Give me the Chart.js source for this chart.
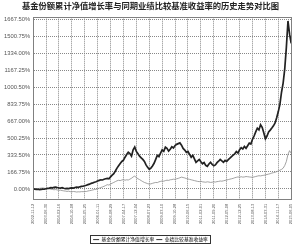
<!DOCTYPE html>
<html>
<head>
<meta charset="utf-8">
<script src="https://cdn.jsdelivr.net/npm/chart.js@4"></script>
<style>
  body { margin: 0; background: #fff; }
  #wrap { width: 300px; height: 248px; }
</style>
</head>
<body>
<div id="wrap"><canvas id="navChart" width="300" height="248"></canvas></div>
<script>
// tick labels along the bottom (one every 8 points)
const xTickLabels = [
  "2002-11-12", "2003-06-30", "2004-02-16", "2004-10-08", "2005-05-25",
  "2006-01-11", "2006-08-29", "2007-04-17", "2007-12-04", "2008-07-23",
  "2009-03-10", "2009-10-28", "2010-06-15", "2011-02-01", "2011-09-20",
  "2012-05-08", "2012-12-25", "2013-08-13", "2014-03-31", "2014-11-17",
  "2015-06-05"
];
const labelEvery = 8;

// y ticks as printed on the chart
const yTicks = [0, 166.75, 333.5, 500.25, 667, 833.75, 1000.5, 1167.25, 1334, 1500.75, 1667.5];

// fund cumulative NAV growth (%)
const fundGrowth = [
  0, -2, -5, -3, -6, -4, -1, -3, 2, 5, 8,
  12, 10, 15, 18, 14, 11, 9, 13, 7, 4,
  6, 3, 8, 11, 9, 14, 18, 16, 21, 25, 27,
  31, 36, 42, 47, 55, 60, 66, 71, 78,
  84, 90, 88, 95, 100, 104, 99,
  118, 135, 150, 176, 205,
  228, 251, 270, 282, 312, 338,
  360, 348, 322, 385,
  412, 368, 345, 322,
  306, 290, 270, 236, 212,
  192, 205, 225, 252,
  290, 330, 318, 352, 384, 370, 410,
  398, 372, 390, 415, 402, 426, 438, 445,
  452, 430, 398, 382, 360,
  368, 340, 312, 330, 296, 262,
  275, 290, 268, 248, 260, 232,
  222, 245, 262, 240, 228, 236,
  258, 272, 289, 276, 262, 280, 270,
  288, 302, 318, 332, 345, 368,
  352, 385, 405, 392, 418, 400,
  425, 450, 442, 488, 520, 560,
  596, 580, 630, 605, 552, 492,
  520, 560, 578, 598, 620, 648,
  700, 760, 830, 950, 1040, 1180,
  1390, 1650, 1520, 1430
];

// benchmark return (%)
const benchReturn = [
  0, 2, 4, 3, 6, 8, 10, 7, 5, 3, 1,
  -2, -5, -8, -6, -10, -14, -12, -16, -19, -21,
  -24, -22, -26, -28, -25, -27, -30, -28, -29, -26, -27,
  -24, -25, -20, -17, -14, -10, -6, -3, 2,
  8, 14, 20, 26, 34, 42, 38,
  48, 56, 64, 72, 80,
  85, 82, 88, 92, 86, 90,
  88, 96, 105, 118,
  126, 112, 100, 92,
  82, 72, 64, 58, 52,
  48, 50, 55, 60,
  64, 62, 70, 74, 78, 76, 82,
  86, 84, 90, 92, 96, 94, 100, 104,
  110, 116, 112, 108, 102,
  98, 94, 90, 86, 82, 78,
  74, 72, 76, 70, 68, 66,
  70, 68, 64, 66, 70, 68,
  72, 74, 78, 76, 80, 84, 88,
  92, 96, 100, 104, 110, 114,
  118, 115, 120, 116, 118, 122,
  120, 118, 116, 114, 118, 122,
  126, 130, 128, 132, 134, 138,
  142, 146, 150, 156, 160, 164,
  170, 176, 184, 192, 204, 230,
  270, 340, 376, 350
];

const seriesNames = ["基金份额累计净值增长率", "业绩比较基准收益率"];

const toPoints = arr => arr.map((v, i) => ({ x: i, y: v }));
const lastIndex = (xTickLabels.length - 1) * labelEvery;

// frame round the plot + box round the legend
const framePlugin = {
  id: 'frame',
  afterDraw(chart) {
    const ctx = chart.ctx;
    const a = chart.chartArea;
    ctx.save();
    ctx.strokeStyle = '#808080';
    ctx.lineWidth = 1;
    ctx.strokeRect(Math.round(a.left) + 0.5, Math.round(a.top) + 0.5,
      Math.round(a.right - a.left), Math.round(a.bottom - a.top));
    const boxes = chart.legend.legendHitBoxes;
    if (boxes && boxes.length) {
      let l = Infinity, t = Infinity, r = -Infinity, b = -Infinity;
      boxes.forEach(h => {
        l = Math.min(l, h.left); t = Math.min(t, h.top);
        r = Math.max(r, h.left + h.width); b = Math.max(b, h.top + h.height);
      });
      ctx.strokeStyle = '#333';
      ctx.strokeRect(Math.round(l - 3) + 0.5, Math.round(t - 2) + 0.5,
        Math.round(r - l + 5), Math.round(b - t + 3));
    }
    ctx.restore();
  }
};

new Chart(document.getElementById('navChart').getContext('2d'), {
  type: 'line',
  data: {
    datasets: [
      {
        label: seriesNames[0],
        data: toPoints(fundGrowth),
        borderColor: '#222',
        borderWidth: 1.7,
        pointRadius: 0,
        tension: 0
      },
      {
        label: seriesNames[1],
        data: toPoints(benchReturn),
        borderColor: '#8a8a8a',
        borderWidth: 0.8,
        pointRadius: 0,
        tension: 0
      }
    ]
  },
  options: {
    responsive: false,
    animation: false,
    layout: { padding: { left: 1, right: 0, top: 0, bottom: -4 } },
    plugins: {
      title: {
        display: true,
        text: '基金份额累计净值增长率与同期业绩比较基准收益率的历史走势对比图',
        color: '#222',
        font: { family: '"Noto Sans CJK SC", sans-serif', size: 8.3, weight: 'bold', lineHeight: 1 },
        padding: { top: 2, bottom: 7 }
      },
      legend: {
        position: 'bottom',
        labels: {
          usePointStyle: true,
          pointStyle: 'line',
          pointStyleWidth: 6,
          boxHeight: 4,
          padding: 2,
          color: '#333',
          font: { family: '"Noto Sans CJK SC", sans-serif', size: 4.8 },
          generateLabels(chart) {
            return chart.data.datasets.map((ds, i) => ({
              text: ds.label,
              strokeStyle: '#333',
              fillStyle: '#333',
              lineWidth: 1,
              pointStyle: 'line',
              datasetIndex: i
            }));
          }
        }
      },
      tooltip: { enabled: false }
    },
    scales: {
      x: {
        type: 'linear',
        min: 0,
        max: lastIndex,
        afterBuildTicks(axis) {
          axis.ticks = xTickLabels.map((_, i) => ({ value: i * labelEvery }));
        },
        afterFit(axis) {
          axis.height += 7; // room between date labels and legend
        },
        ticks: {
          autoSkip: false,
          minRotation: 90,
          maxRotation: 90,
          padding: 4,
          color: '#555',
          font: { family: '"Liberation Sans", sans-serif', size: 4 },
          callback: v => xTickLabels[v / labelEvery]
        },
        grid: { color: '#888', drawTicks: false },
        border: { color: '#808080', dash: [1, 1] }
      },
      y: {
        min: -106,
        max: 1686,
        afterBuildTicks(axis) {
          axis.ticks = yTicks.map(v => ({ value: v }));
        },
        ticks: {
          padding: 3,
          color: '#555',
          font: { family: '"Liberation Sans", sans-serif', size: 5.8 },
          callback: v => Number(v).toFixed(2) + '%'
        },
        grid: { color: '#888', drawTicks: false },
        border: { color: '#808080', dash: [1, 1] }
      }
    }
  },
  plugins: [framePlugin]
});
</script>
</body>
</html>
